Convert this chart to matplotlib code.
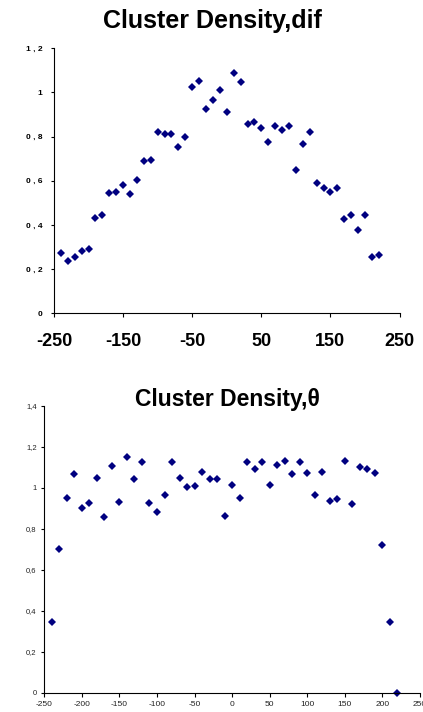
import numpy as np
import matplotlib
matplotlib.use("Agg")
import matplotlib.pyplot as plt

plt.rcParams["font.family"] = ["Liberation Sans", "DejaVu Sans"]

# x positions shared by both panels (every 10 units)
x_vals = list(range(-240, 230, 10))

dif_vals = [0.275, 0.235, 0.253, 0.283, 0.289, 0.433, 0.447, 0.544, 0.550, 0.579,
            0.538, 0.605, 0.689, 0.695, 0.820, 0.812, 0.812, 0.755, 0.797, 1.024,
            1.053, 0.923, 0.964, 1.011, 0.911, 1.089, 1.047, 0.859, 0.865, 0.838,
            0.777, 0.848, 0.829, 0.848, 0.651, 0.766, 0.823, 0.591, 0.568, 0.550,
            0.568, 0.429, 0.447, 0.376, 0.447, 0.257, 0.265]

theta_vals = [0.345, 0.704, 0.953, 1.067, 0.901, 0.927, 1.049, 0.859, 1.106, 0.933,
              1.151, 1.042, 1.127, 0.927, 0.881, 0.964, 1.127, 1.049, 1.005, 1.010,
              1.080, 1.042, 1.042, 0.863, 1.016, 0.953, 1.127, 1.091, 1.127, 1.016,
              1.112, 1.132, 1.067, 1.127, 1.073, 0.964, 1.080, 0.938, 0.945, 1.132,
              0.920, 1.101, 1.091, 1.073, 0.723, 0.345, 0.0]

top_xticks = [-250, -150, -50, 50, 150, 250]
top_yticks = [0, 0.2, 0.4, 0.6, 0.8, 1.0, 1.2]
bot_xticks = list(range(-250, 251, 50))
bot_yticks = [0, 0.2, 0.4, 0.6, 0.8, 1.0, 1.2, 1.4]


def comma(v, sep=","):
    return f"{v:g}".replace(".", sep)


fig = plt.figure(figsize=(4.23, 7.12), dpi=100)
navy = "#000080"

# ---------- top panel ----------
ax1 = fig.add_axes([0.1277, 0.5600, 0.8168, 0.3722])
ax1.plot(x_vals, dif_vals, "D", color=navy, markersize=4.2, markeredgewidth=0)
ax1.set_xlim(-250, 250)
ax1.set_ylim(0, 1.2)
ax1.set_xticks(top_xticks)
ax1.set_xticklabels([str(t) for t in top_xticks], fontsize=13, fontweight="bold")
ax1.set_yticks(top_yticks)
ax1.set_yticklabels([comma(t, " , ") for t in top_yticks], fontsize=6, fontweight="bold")
ax1.tick_params(axis="x", direction="out", length=3, width=0.8, pad=11)
ax1.tick_params(axis="y", direction="out", length=2.5, width=0.8, pad=6)
for s in ["top", "right"]:
    ax1.spines[s].set_visible(False)
for s in ["left", "bottom"]:
    ax1.spines[s].set_linewidth(0.8)
fig.text(0.503, 0.970, "Cluster Density,dif", ha="center", va="center",
         fontsize=18, fontweight="bold")

# ---------- bottom panel ----------
ax2 = fig.add_axes([0.1047, 0.0271, 0.8882, 0.4027])
ax2.plot(x_vals, theta_vals, "D", color=navy, markersize=4.2, markeredgewidth=0,
         clip_on=False)
ax2.set_xlim(-250, 250)
ax2.set_ylim(0, 1.4)
ax2.set_xticks(bot_xticks)
ax2.set_xticklabels([str(t) for t in bot_xticks], fontsize=6, color="#222222")
ax2.set_yticks(bot_yticks)
ax2.set_yticklabels([comma(t) for t in bot_yticks], fontsize=5.5, color="#222222")
ax2.tick_params(axis="x", direction="out", length=2.7, width=0.8, pad=3.5)
ax2.tick_params(axis="y", direction="out", length=2.5, width=0.8, pad=3)
for s in ["top", "right"]:
    ax2.spines[s].set_visible(False)
for s in ["left", "bottom"]:
    ax2.spines[s].set_linewidth(0.8)
fig.text(0.537, 0.439, "Cluster Density,θ", ha="center", va="center",
         fontsize=16.5, fontweight="bold")

fig.savefig("out.png", dpi=100)
